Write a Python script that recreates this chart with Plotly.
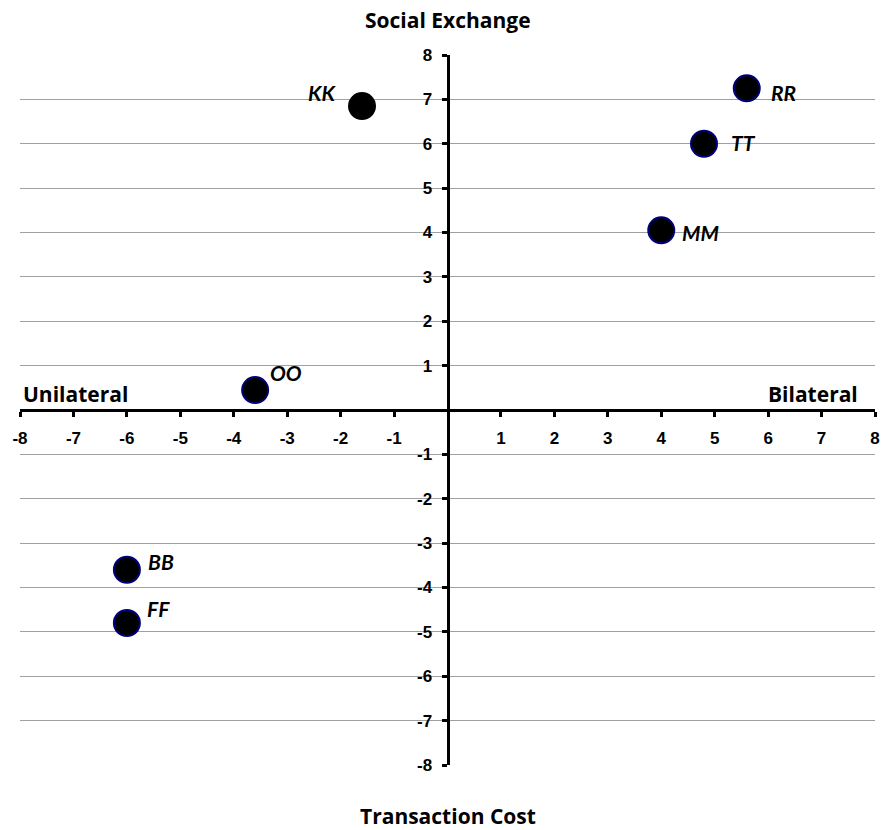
import plotly.graph_objects as go

names = ["KK", "RR", "TT", "MM", "OO", "BB", "FF"]
x_vals = [-1.6, 5.6, 4.8, 4.0, -3.6, -6.0, -6.0]
y_vals = [6.85, 7.25, 6.0, 4.05, 0.45, -3.6, -4.8]
outline = ["#000000", "#00007a", "#00007a", "#00007a", "#00007a", "#00007a", "#00007a"]

# label offsets (pixels) relative to each marker
lab_anchor = ["right", "left", "left", "left", "left", "left", "left"]
lab_dx = [-24, 22, 25, 19, 13, 19, 18]
lab_dy = [14, -4, 1, -2, 18, 8, 15]

x_ticks = [-8, -7, -6, -5, -4, -3, -2, -1, 1, 2, 3, 4, 5, 6, 7, 8]
y_ticks = [-8, -7, -6, -5, -4, -3, -2, -1, 1, 2, 3, 4, 5, 6, 7, 8]
grid_vals = [-8, -7, -6, -5, -4, -3, -2, -1, 0, 1, 2, 3, 4, 5, 6, 7]

fig = go.Figure()
fig.add_trace(go.Scatter(
    x=x_vals, y=y_vals, mode="markers",
    marker=dict(size=26, color="black", line=dict(color=outline, width=2)),
    hoverinfo="skip", showlegend=False, cliponaxis=False,
))

tickfont = dict(family="Liberation Sans", size=17, color="black")
annotations = []
for n, x, y, a, dx, dy in zip(names, x_vals, y_vals, lab_anchor, lab_dx, lab_dy):
    annotations.append(dict(
        text="<b><i>%s</i></b>" % n, x=x, y=y, xref="x", yref="y",
        xanchor=a, yanchor="middle", xshift=dx, yshift=dy, showarrow=False,
        font=dict(family="Lato", size=21, color="black")))

title_font = dict(family="Open Sans", size=21, color="black")
annotations += [
    dict(text="<b>Social Exchange</b>", x=0.5, y=1.049, xref="paper", yref="paper",
         yanchor="middle", showarrow=False, font=title_font),
    dict(text="<b>Transaction Cost</b>", x=0.5, y=-0.0715, xref="paper", yref="paper",
         yanchor="middle", showarrow=False, font=title_font),
    dict(text="<b>Unilateral</b>", x=-8, y=0, xref="x", yref="y", xanchor="left",
         yanchor="bottom", yshift=0, xshift=1, showarrow=False, font=title_font),
    dict(text="<b>Bilateral</b>", x=8, y=0, xref="x", yref="y", xanchor="right",
         yanchor="bottom", yshift=0, xshift=-15, showarrow=False, font=title_font),
]

fig.update_layout(
    width=884, height=830,
    margin=dict(l=20, r=9, t=55, b=65, autoexpand=False),
    paper_bgcolor="white", plot_bgcolor="white",
    xaxis=dict(range=[-8, 8], anchor="free", position=0.5, showgrid=False,
               zeroline=False, showline=True, linecolor="black", linewidth=3,
               ticks="outside", ticklen=5, tickwidth=3, tickcolor="black",
               tickvals=x_ticks, ticktext=["<b>%d</b>" % v for v in x_ticks],
               tickfont=tickfont, ticklabelstandoff=7, automargin=False,
               fixedrange=True),
    yaxis=dict(range=[-8, 8], anchor="free", position=0.5, showgrid=False,
               zeroline=False, showline=True, linecolor="black", linewidth=3,
               ticks="outside", ticklen=5, tickwidth=3, tickcolor="black",
               tickvals=y_ticks, ticktext=["<b>%d</b>" % v for v in y_ticks],
               tickfont=tickfont, ticklabelstandoff=6, automargin=False,
               minor=dict(tickvals=grid_vals, showgrid=True, gridcolor="#a0a0a0",
                          gridwidth=1, ticks=""),
               fixedrange=True),
    annotations=annotations,
)
fig.write_html("out.html", config={"displayModeBar": False})

with open("out.html", "r", encoding="utf-8") as f:
    html = f.read()
html = html.replace("<body>", '<body style="margin:0;overflow:hidden">', 1)
with open("out.html", "w", encoding="utf-8") as f:
    f.write(html)
